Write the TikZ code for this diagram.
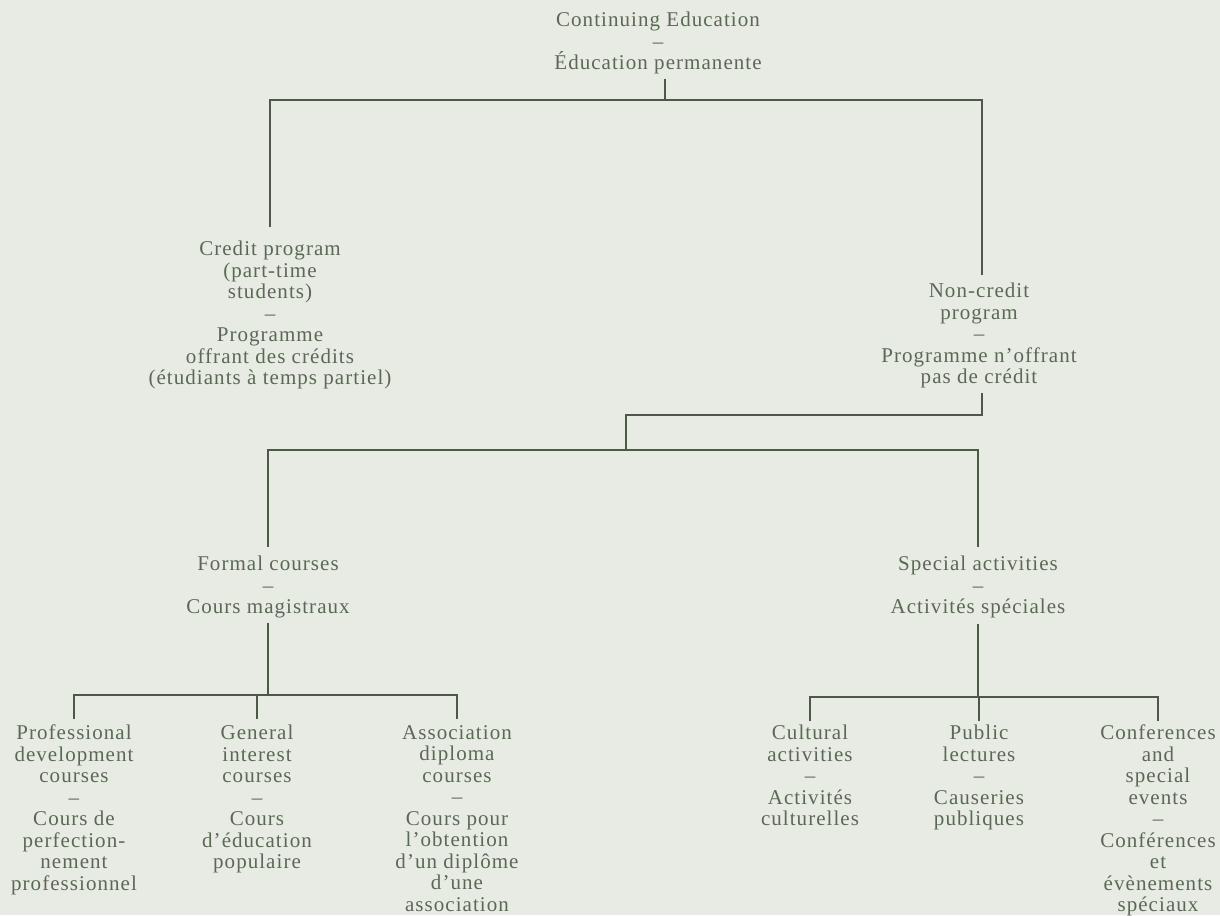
\documentclass[tikz,border=0pt]{standalone}
\usepackage{fontspec}
\setmainfont{Liberation Serif}[LetterSpace=5]
\usepackage{tikz}
\definecolor{paper}{RGB}{231,235,228}
\definecolor{ink}{RGB}{92,104,86}
\tikzset{
  unit/.style={align=center, inner sep=0pt, anchor=north, text=ink,
    font=\fontsize{21}{21.5}\selectfont},
  link/.style={draw=ink!85!black, line width=1.6pt},
}
\begin{document}
\begin{tikzpicture}[x=1pt,y=-1pt]

            \fill[paper] (0,0) rectangle (1220,915);
            \useasboundingbox (0,0) rectangle (1220,915);

            \node[unit] (top) at (658,12) {Continuing Education\\--\\Éducation permanente};
            \node[unit] (credit) at (270,241) {Credit program\\(part-time\\students)\\--\\Programme\\offrant des crédits\\(étudiants à temps partiel)};
            \node[unit] (noncredit) at (979,283) {Non-credit\\program\\--\\Programme n'offrant\\pas de crédit};
            \node[unit] (formal) at (268,556) {Formal courses\\--\\Cours magistraux};
            \node[unit] (special) at (978,556) {Special activities\\--\\Activités spéciales};
            \node[unit] (prof) at (74,725) {Professional\\development\\courses\\--\\Cours de\\perfection-\\nement\\professionnel};
            \node[unit] (general) at (257,725) {General\\interest\\courses\\--\\Cours\\d'éducation\\populaire};
            \node[unit] (assoc) at (457,725) {Association\\diploma\\courses\\--\\Cours pour\\l'obtention\\d'un diplôme\\d'une\\association};
            \node[unit] (cultural) at (810,725) {Cultural\\activities\\--\\Activités\\culturelles};
            \node[unit] (public) at (979,725) {Public\\lectures\\--\\Causeries\\publiques};
            \node[unit] (conf) at (1158,725) {Conferences\\and\\special\\events\\--\\Conférences\\et\\évènements\\spéciaux};

            \coordinate (bar1) at (665,100);
            \coordinate (bar2) at (626,415);
            \coordinate (bar3) at (626,450);
            \coordinate (bar4) at (268,695);
            \coordinate (bar5) at (978,697);

            \draw[link, shorten <=5pt] (top.south -| bar1) -- (bar1);
            \draw[link, shorten >=14pt] (bar1) -| (credit.north);
            \draw[link, shorten >=8pt] (bar1) -| ([xshift=3pt]noncredit.north);
            \draw[link, shorten <=5pt] ([xshift=3pt]noncredit.south) |- (bar2) -- (bar3);
            \foreach \c in {formal,special}
                \draw[link, shorten >=9pt] (bar3) -| (\c.north);
            \draw[link, shorten <=4pt] (formal.south) -- (bar4);
            \draw[link, shorten <=6pt] (special.south) -- (bar5);
            \foreach \c in {prof,general,assoc}
                \draw[link, shorten >=6pt] (bar4) -| (\c.north);
            \foreach \c in {cultural,public,conf}
                \draw[link, shorten >=4pt] (bar5) -| (\c.north);
        \end{tikzpicture}
\end{document}
